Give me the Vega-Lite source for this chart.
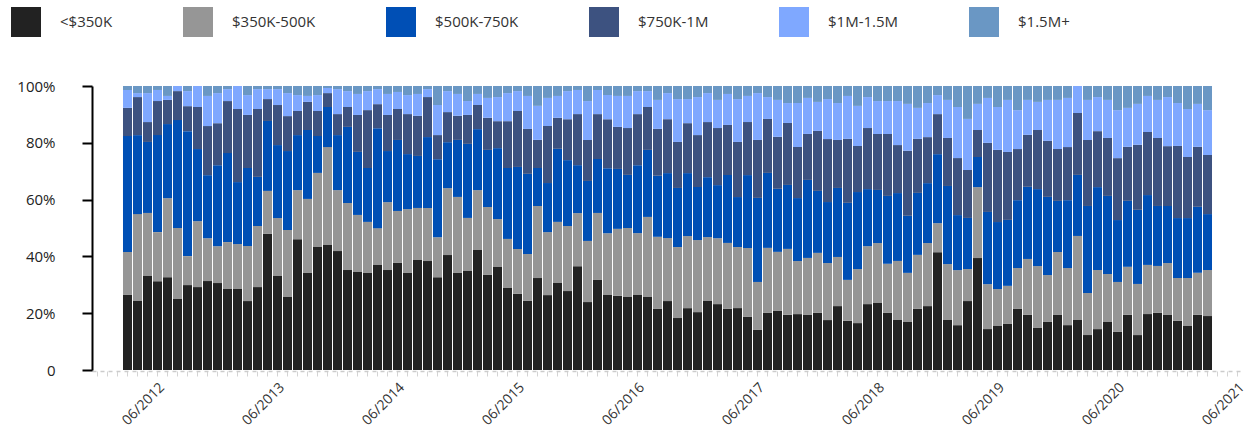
{
  "$schema": "https://vega.github.io/schema/vega-lite/v6.json",
  "autosize": {"type": "none"},
  "padding": {"left": 92, "top": 86, "right": 10, "bottom": 67},
  "width": 1152,
  "height": 284,
  "background": "white",
  "config": {"view": {"stroke": null}, "font": "Open Sans"},
  "data": {"values": [
{"m":"2012-03","a":26.4,"b":15.1,"c":40.8,"d":9.9,"e":6.3,"f":1.4},
{"m":"2012-04","a":24.3,"b":30.6,"c":27.8,"d":13.4,"e":1.4,"f":2.5},
{"m":"2012-05","a":33.1,"b":22.2,"c":25.0,"d":7.0,"e":10.2,"f":2.5},
{"m":"2012-06","a":31.3,"b":17.3,"c":34.2,"d":12.0,"e":3.9,"f":1.4},
{"m":"2012-07","a":32.7,"b":27.8,"c":26.1,"d":8.5,"e":1.4,"f":3.5},
{"m":"2012-08","a":25.0,"b":25.0,"c":38.0,"d":10.2,"e":1.8,"f":0},
{"m":"2012-09","a":29.9,"b":10.2,"c":44.0,"d":8.8,"e":5.3,"f":1.8},
{"m":"2012-10","a":29.2,"b":23.2,"c":25.4,"d":14.8,"e":7.4,"f":0},
{"m":"2012-11","a":31.3,"b":15.1,"c":22.2,"d":17.3,"e":10.6,"f":3.5},
{"m":"2012-12","a":30.6,"b":13.0,"c":28.5,"d":14.8,"e":10.6,"f":2.5},
{"m":"2013-01","a":28.5,"b":16.5,"c":31.3,"d":18.3,"e":4.2,"f":1.1},
{"m":"2013-02","a":28.5,"b":15.8,"c":21.8,"d":25.7,"e":8.1,"f":0},
{"m":"2013-03","a":24.3,"b":19.4,"c":27.5,"d":18.7,"e":7.0,"f":3.2},
{"m":"2013-04","a":29.2,"b":21.5,"c":17.3,"d":23.9,"e":7.0,"f":1.1},
{"m":"2013-05","a":47.9,"b":15.1,"c":24.6,"d":7.7,"e":3.5,"f":1.1},
{"m":"2013-06","a":33.1,"b":20.4,"c":25.7,"d":14.1,"e":5.6,"f":1.1},
{"m":"2013-07","a":25.7,"b":23.6,"c":27.8,"d":12.3,"e":8.1,"f":2.5},
{"m":"2013-08","a":46.1,"b":17.3,"c":19.4,"d":8.5,"e":5.6,"f":3.2},
{"m":"2013-09","a":34.2,"b":26.1,"c":24.3,"d":9.9,"e":2.1,"f":3.5},
{"m":"2013-10","a":43.3,"b":26.1,"c":13.0,"d":8.8,"e":5.6,"f":3.2},
{"m":"2013-11","a":44.0,"b":34.5,"c":14.1,"d":4.9,"e":1.8,"f":0.7},
{"m":"2013-12","a":41.9,"b":21.5,"c":19.4,"d":7.4,"e":8.8,"f":1.1},
{"m":"2014-01","a":35.2,"b":23.6,"c":26.8,"d":7.0,"e":5.6,"f":1.8},
{"m":"2014-02","a":34.5,"b":20.1,"c":22.2,"d":13.0,"e":7.4,"f":2.8},
{"m":"2014-03","a":34.2,"b":18.0,"c":19.0,"d":20.4,"e":6.7,"f":1.8},
{"m":"2014-04","a":37.0,"b":13.0,"c":35.2,"d":8.5,"e":5.3,"f":1.1},
{"m":"2014-05","a":35.2,"b":23.9,"c":18.0,"d":12.7,"e":7.4,"f":2.8},
{"m":"2014-06","a":37.7,"b":18.3,"c":25.0,"d":10.9,"e":6.0,"f":2.1},
{"m":"2014-07","a":34.2,"b":22.5,"c":19.4,"d":14.1,"e":6.7,"f":3.2},
{"m":"2014-08","a":38.7,"b":18.3,"c":18.3,"d":14.1,"e":7.7,"f":2.8},
{"m":"2014-09","a":38.4,"b":18.7,"c":25.0,"d":14.1,"e":2.8,"f":1.1},
{"m":"2014-10","a":32.7,"b":14.1,"c":27.5,"d":8.5,"e":10.6,"f":6.7},
{"m":"2014-11","a":40.5,"b":23.6,"c":16.2,"d":10.6,"e":7.4,"f":1.8},
{"m":"2014-12","a":34.2,"b":26.8,"c":20.1,"d":8.5,"e":7.7,"f":2.8},
{"m":"2015-01","a":34.9,"b":18.7,"c":26.1,"d":10.2,"e":4.9,"f":5.3},
{"m":"2015-02","a":42.3,"b":21.1,"c":21.5,"d":8.5,"e":3.9,"f":2.8},
{"m":"2015-03","a":33.5,"b":23.9,"c":20.1,"d":11.3,"e":7.0,"f":4.2},
{"m":"2015-04","a":36.3,"b":16.9,"c":25.0,"d":9.5,"e":8.5,"f":3.9},
{"m":"2015-05","a":28.9,"b":17.3,"c":25.0,"d":16.5,"e":9.9,"f":2.5},
{"m":"2015-06","a":26.8,"b":15.8,"c":28.9,"d":19.7,"e":7.0,"f":1.8},
{"m":"2015-07","a":24.3,"b":16.5,"c":28.2,"d":15.8,"e":11.6,"f":3.5},
{"m":"2015-08","a":32.4,"b":25.4,"c":13.4,"d":9.9,"e":12.0,"f":7.0},
{"m":"2015-09","a":26.4,"b":22.2,"c":17.3,"d":20.1,"e":9.9,"f":4.2},
{"m":"2015-10","a":30.6,"b":21.5,"c":25.7,"d":10.9,"e":7.7,"f":3.5},
{"m":"2015-11","a":27.8,"b":22.9,"c":23.2,"d":14.4,"e":9.9,"f":1.8},
{"m":"2015-12","a":36.6,"b":18.7,"c":16.9,"d":18.0,"e":8.5,"f":1.4},
{"m":"2016-01","a":23.9,"b":21.5,"c":21.1,"d":14.4,"e":13.7,"f":5.3},
{"m":"2016-02","a":31.7,"b":23.6,"c":19.0,"d":15.8,"e":8.5,"f":1.4},
{"m":"2016-03","a":26.4,"b":21.8,"c":22.9,"d":17.3,"e":8.5,"f":3.2},
{"m":"2016-04","a":26.1,"b":23.6,"c":21.1,"d":14.8,"e":10.9,"f":3.5},
{"m":"2016-05","a":25.7,"b":24.3,"c":18.7,"d":16.5,"e":11.3,"f":3.5},
{"m":"2016-06","a":26.4,"b":21.8,"c":23.9,"d":18.0,"e":8.1,"f":1.8},
{"m":"2016-07","a":25.7,"b":28.2,"c":23.6,"d":15.1,"e":5.6,"f":1.8},
{"m":"2016-08","a":21.5,"b":25.4,"c":21.5,"d":16.5,"e":10.2,"f":4.9},
{"m":"2016-09","a":24.3,"b":22.2,"c":22.9,"d":19.0,"e":9.2,"f":2.5},
{"m":"2016-10","a":18.3,"b":25.0,"c":20.8,"d":16.2,"e":15.1,"f":4.6},
{"m":"2016-11","a":21.8,"b":25.4,"c":22.2,"d":17.6,"e":8.5,"f":4.6},
{"m":"2016-12","a":20.4,"b":25.4,"c":18.7,"d":18.3,"e":13.4,"f":3.9},
{"m":"2017-01","a":24.3,"b":22.5,"c":21.1,"d":19.4,"e":10.2,"f":2.5},
{"m":"2017-02","a":23.2,"b":23.2,"c":18.7,"d":20.1,"e":9.9,"f":4.9},
{"m":"2017-03","a":21.5,"b":23.2,"c":23.9,"d":17.6,"e":10.9,"f":2.8},
{"m":"2017-04","a":21.8,"b":21.5,"c":17.6,"d":19.4,"e":15.1,"f":4.6},
{"m":"2017-05","a":18.7,"b":24.3,"c":25.7,"d":18.7,"e":9.2,"f":3.5},
{"m":"2017-06","a":14.1,"b":16.9,"c":29.6,"d":20.4,"e":16.5,"f":2.5},
{"m":"2017-07","a":20.1,"b":22.9,"c":26.4,"d":19.0,"e":7.7,"f":3.9},
{"m":"2017-08","a":20.8,"b":20.8,"c":22.2,"d":18.3,"e":13.0,"f":4.9},
{"m":"2017-09","a":19.4,"b":23.2,"c":22.5,"d":21.8,"e":7.0,"f":6.0},
{"m":"2017-10","a":19.7,"b":18.7,"c":22.2,"d":18.0,"e":15.5,"f":6.0},
{"m":"2017-11","a":19.4,"b":20.1,"c":27.5,"d":16.2,"e":12.7,"f":4.2},
{"m":"2017-12","a":20.1,"b":21.1,"c":21.8,"d":21.1,"e":10.2,"f":5.6},
{"m":"2018-01","a":17.6,"b":20.1,"c":21.5,"d":22.2,"e":14.1,"f":4.6},
{"m":"2018-02","a":22.5,"b":17.3,"c":24.3,"d":16.9,"e":13.0,"f":6.0},
{"m":"2018-03","a":17.3,"b":14.4,"c":27.1,"d":22.5,"e":15.1,"f":3.5},
{"m":"2018-04","a":16.5,"b":19.0,"c":27.1,"d":16.2,"e":14.1,"f":7.0},
{"m":"2018-05","a":23.2,"b":20.4,"c":20.1,"d":21.5,"e":10.9,"f":3.9},
{"m":"2018-06","a":23.6,"b":21.1,"c":18.7,"d":19.7,"e":11.6,"f":5.3},
{"m":"2018-07","a":20.1,"b":17.3,"c":23.9,"d":21.8,"e":11.6,"f":5.3},
{"m":"2018-08","a":17.6,"b":20.8,"c":23.9,"d":16.9,"e":15.5,"f":5.3},
{"m":"2018-09","a":16.9,"b":17.3,"c":20.1,"d":22.9,"e":16.5,"f":6.3},
{"m":"2018-10","a":21.5,"b":19.0,"c":21.8,"d":19.0,"e":10.9,"f":7.7},
{"m":"2018-11","a":22.5,"b":22.2,"c":21.1,"d":16.2,"e":12.0,"f":6.0},
{"m":"2018-12","a":41.5,"b":10.2,"c":24.3,"d":14.1,"e":6.7,"f":3.2},
{"m":"2019-01","a":17.6,"b":19.7,"c":27.5,"d":16.9,"e":13.4,"f":4.9},
{"m":"2019-02","a":15.8,"b":19.4,"c":19.4,"d":20.1,"e":18.0,"f":7.4},
{"m":"2019-03","a":24.3,"b":11.3,"c":18.0,"d":16.9,"e":18.0,"f":11.6},
{"m":"2019-04","a":39.4,"b":25.0,"c":10.6,"d":9.5,"e":9.2,"f":6.3},
{"m":"2019-05","a":14.4,"b":15.8,"c":25.4,"d":24.3,"e":15.8,"f":4.2},
{"m":"2019-06","a":15.5,"b":13.0,"c":23.6,"d":25.4,"e":15.1,"f":7.4},
{"m":"2019-07","a":16.2,"b":13.4,"c":23.2,"d":23.9,"e":18.3,"f":4.9},
{"m":"2019-08","a":21.5,"b":14.4,"c":23.9,"d":18.0,"e":13.7,"f":8.5},
{"m":"2019-09","a":19.4,"b":19.7,"c":25.4,"d":18.3,"e":12.3,"f":4.9},
{"m":"2019-10","a":14.8,"b":21.8,"c":27.1,"d":20.8,"e":9.9,"f":5.6},
{"m":"2019-11","a":16.9,"b":16.5,"c":27.5,"d":19.7,"e":14.4,"f":4.9},
{"m":"2019-12","a":19.4,"b":22.2,"c":18.0,"d":18.3,"e":17.3,"f":4.9},
{"m":"2020-01","a":15.8,"b":20.1,"c":23.9,"d":18.7,"e":17.3,"f":4.2},
{"m":"2020-02","a":17.6,"b":29.6,"c":21.5,"d":21.8,"e":9.5,"f":0},
{"m":"2020-03","a":12.3,"b":14.8,"c":30.6,"d":23.2,"e":14.1,"f":4.9},
{"m":"2020-04","a":14.4,"b":20.8,"c":29.2,"d":19.7,"e":12.0,"f":3.9},
{"m":"2020-05","a":16.9,"b":16.9,"c":27.5,"d":20.4,"e":13.4,"f":4.9},
{"m":"2020-06","a":13.4,"b":17.6,"c":21.8,"d":21.8,"e":16.9,"f":8.5},
{"m":"2020-07","a":19.4,"b":16.9,"c":23.2,"d":19.0,"e":13.7,"f":7.7},
{"m":"2020-08","a":12.3,"b":18.0,"c":26.1,"d":22.9,"e":14.4,"f":6.3},
{"m":"2020-09","a":19.7,"b":17.3,"c":24.6,"d":22.2,"e":12.7,"f":3.5},
{"m":"2020-10","a":20.1,"b":16.5,"c":21.1,"d":23.9,"e":13.4,"f":4.9},
{"m":"2020-11","a":19.4,"b":18.3,"c":20.1,"d":21.1,"e":17.3,"f":3.9},
{"m":"2020-12","a":17.3,"b":15.1,"c":21.1,"d":25.4,"e":15.1,"f":6.0},
{"m":"2021-01","a":15.5,"b":16.9,"c":21.1,"d":21.5,"e":16.9,"f":8.1},
{"m":"2021-02","a":19.4,"b":14.8,"c":23.2,"d":21.1,"e":15.1,"f":6.3},
{"m":"2021-03","a":19.0,"b":16.2,"c":19.7,"d":20.8,"e":15.8,"f":8.5}
  ]},
  "transform": [{"fold": ["a", "b", "c", "d", "e", "f"], "as": ["k", "v"]}],
  "mark": {"type": "bar", "strokeWidth": 0},
  "encoding": {
    "x": {
      "field": "m", "type": "ordinal",
      "scale": {
        "domain": ["2011-12","2012-01","2012-02","2012-03","2012-04","2012-05","2012-06","2012-07","2012-08","2012-09","2012-10","2012-11","2012-12",
          "2013-01","2013-02","2013-03","2013-04","2013-05","2013-06","2013-07","2013-08","2013-09","2013-10","2013-11","2013-12",
          "2014-01","2014-02","2014-03","2014-04","2014-05","2014-06","2014-07","2014-08","2014-09","2014-10","2014-11","2014-12",
          "2015-01","2015-02","2015-03","2015-04","2015-05","2015-06","2015-07","2015-08","2015-09","2015-10","2015-11","2015-12",
          "2016-01","2016-02","2016-03","2016-04","2016-05","2016-06","2016-07","2016-08","2016-09","2016-10","2016-11","2016-12",
          "2017-01","2017-02","2017-03","2017-04","2017-05","2017-06","2017-07","2017-08","2017-09","2017-10","2017-11","2017-12",
          "2018-01","2018-02","2018-03","2018-04","2018-05","2018-06","2018-07","2018-08","2018-09","2018-10","2018-11","2018-12",
          "2019-01","2019-02","2019-03","2019-04","2019-05","2019-06","2019-07","2019-08","2019-09","2019-10","2019-11","2019-12",
          "2020-01","2020-02","2020-03","2020-04","2020-05","2020-06","2020-07","2020-08","2020-09","2020-10","2020-11","2020-12",
          "2021-01","2021-02","2021-03","2021-04","2021-05","2021-06"],
        "paddingInner": 0.1, "paddingOuter": 0.15, "align": 0.333
      },
      "axis": {
        "title": null, "labelAngle": -45, "labelOverlap": false, "offset": 1,
        "labelExpr": "substring(datum.value,5,7) == '06' ? substring(datum.value,5,7) + '/' + substring(datum.value,0,4) : ''",
        "labelFontSize": 14, "labelColor": "#333333", "labelFont": "Open Sans", "labelPadding": 4,
        "tickColor": "#d4d4d4", "tickSize": 5, "tickWidth": 1,
        "domainColor": "#cccccc", "domainDash": [4, 4], "domainWidth": 1.5, "grid": false
      }
    },
    "y": {
      "field": "v", "type": "quantitative", "stack": "normalize",
      "axis": {
        "title": null, "values": [0, 0.2, 0.4, 0.6, 0.8, 1],
        "labelExpr": "datum.value == 0 ? '0' : format(datum.value, '.0%')",
        "labelFontSize": 15, "labelColor": "#222222", "labelFont": "Open Sans", "labelPadding": 27,
        "domainColor": "#000000", "domainWidth": 2, "tickColor": "#000000", "tickWidth": 2, "tickSize": 10, "grid": false
      }
    },
    "color": {
      "field": "k", "type": "nominal",
      "scale": {"domain": ["a", "b", "c", "d", "e", "f"], "range": ["#222222", "#969696", "#004fb5", "#3d5280", "#7fa8ff", "#6a97c4"]},
      "legend": {
        "title": null, "orient": "none", "legendX": -81, "legendY": -79, "direction": "horizontal", "columns": 6,
        "symbolType": "square", "symbolSize": 900, "symbolStrokeWidth": 0, "symbolOpacity": 1,
        "labelFontSize": 15, "labelFont": "Open Sans", "labelColor": "#333333", "labelOffset": 19, "columnPadding": 70, "padding": 0,
        "labelExpr": "datum.label == 'a' ? '<$350K' : datum.label == 'b' ? '$350K-500K' : datum.label == 'c' ? '$500K-750K' : datum.label == 'd' ? '$750K-1M' : datum.label == 'e' ? '$1M-1.5M' : '$1.5M+'"
      }
    },
    "order": {"field": "k", "type": "nominal"}
  }
}
